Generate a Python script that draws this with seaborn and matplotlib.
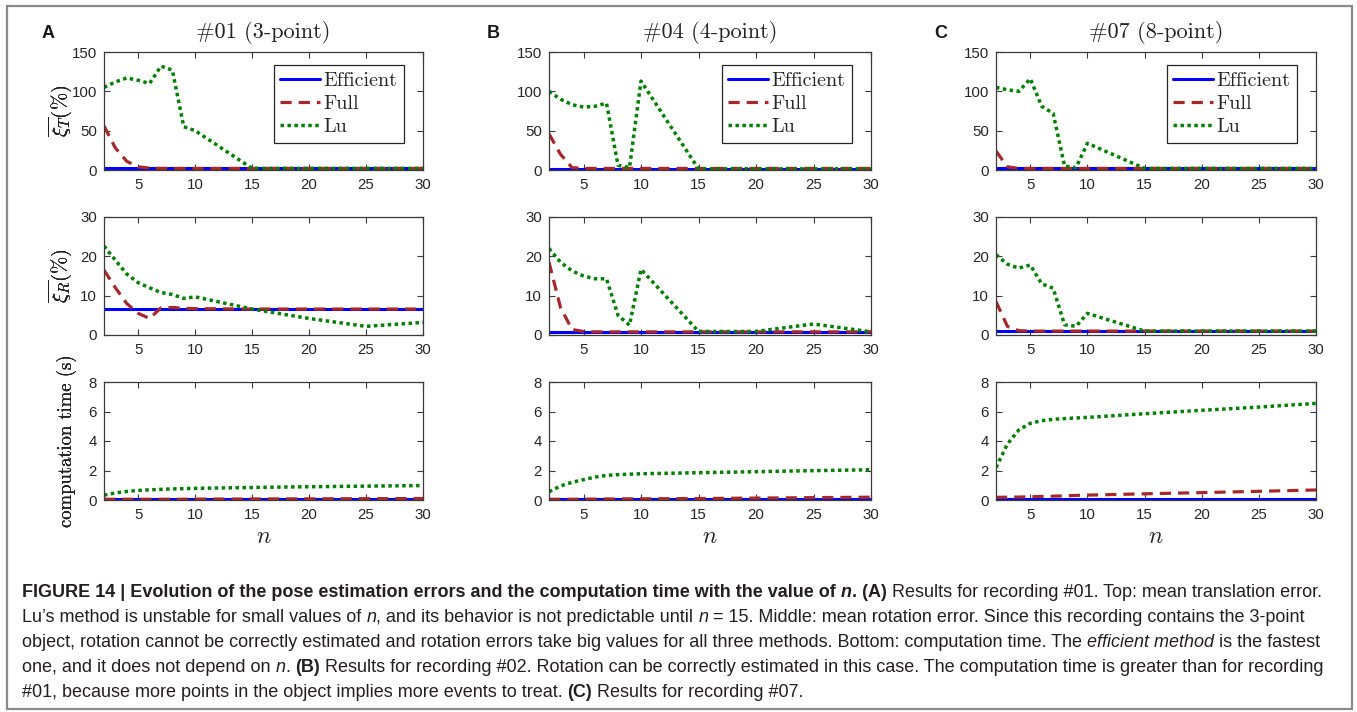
import matplotlib
matplotlib.use("Agg")
import matplotlib.pyplot as plt
import seaborn as sns
import pandas as pd
from matplotlib import font_manager
from matplotlib.patches import Rectangle

# ---------------- data ----------------
n_values = [2, 3, 4, 5, 6, 7, 8, 9, 10, 15, 20, 25, 30]
methods = ["Efficient", "Full", "Lu"]
panel_titles = ["#01 (3-point)", "#04 (4-point)", "#07 (8-point)"]
panel_letters = ["A", "B", "C"]

# translation error (%)
eff_T_A = [2, 2, 2, 2, 2, 2, 2, 2, 2, 2, 2, 2, 2]
full_T_A = [56, 28, 11, 4, 2.5, 2, 2, 2, 2, 2, 2, 2, 2]
lu_T_A = [105, 112, 117, 114, 110, 132, 127, 55, 50, 2, 2, 2, 2]
eff_T_B = [1.5, 1.5, 1.5, 1.5, 1.5, 1.5, 1.5, 1.5, 1.5, 1.5, 1.5, 1.5, 1.5]
full_T_B = [46, 20, 3, 2, 2, 2, 2, 2, 2, 2, 2, 2, 2]
lu_T_B = [100, 90, 83, 80, 81, 85, 6, 3, 113, 1.5, 1.5, 1.5, 1.5]
eff_T_C = [2, 2, 2, 2, 2, 2, 2, 2, 2, 2, 2, 2, 2]
full_T_C = [24, 4, 2, 2, 2, 2, 2, 2, 2, 2, 2, 2, 2]
lu_T_C = [105, 102, 100, 116, 81, 72, 5, 3, 34, 2, 2, 2, 2]

# rotation error (%)
eff_R_A = [6.6, 6.6, 6.6, 6.6, 6.6, 6.6, 6.6, 6.6, 6.6, 6.6, 6.6, 6.6, 6.6]
full_R_A = [16.5, 12, 8, 5.5, 4.2, 6.9, 7.0, 6.8, 6.7, 6.6, 6.6, 6.6, 6.6]
lu_R_A = [22.6, 19, 15.5, 13.3, 12, 10.8, 10.3, 9.3, 9.7, 6.6, 4.2, 2.2, 3.2]
eff_R_B = [0.8, 0.8, 0.8, 0.8, 0.8, 0.8, 0.8, 0.8, 0.8, 0.8, 0.8, 0.8, 0.8]
full_R_B = [18.5, 7, 1.4, 0.9, 0.8, 0.8, 0.8, 0.8, 0.8, 0.8, 0.8, 0.8, 0.8]
lu_R_B = [22, 18.5, 16.3, 15, 14.3, 14.3, 5, 2.5, 16.7, 0.9, 0.9, 2.8, 0.8]
eff_R_C = [1.0, 1.0, 1.0, 1.0, 1.0, 1.0, 1.0, 1.0, 1.0, 1.0, 1.0, 1.0, 1.0]
full_R_C = [8.5, 2.2, 1.1, 1.0, 1.0, 1.0, 1.0, 1.0, 1.0, 1.0, 1.0, 1.0, 1.0]
lu_R_C = [20.4, 18, 17, 17.8, 13, 11.9, 2.6, 2.2, 5.5, 1.0, 1.0, 1.0, 1.0]

# computation time (s)
eff_C_A = [0.04, 0.04, 0.04, 0.04, 0.04, 0.04, 0.04, 0.04, 0.04, 0.04, 0.04, 0.04, 0.04]
full_C_A = [0.05, 0.05, 0.05, 0.05, 0.05, 0.05, 0.05, 0.05, 0.06, 0.07, 0.08, 0.09, 0.1]
lu_C_A = [0.33, 0.48, 0.58, 0.65, 0.69, 0.72, 0.75, 0.77, 0.79, 0.85, 0.9, 0.94, 0.98]
eff_C_B = [0.04, 0.04, 0.04, 0.04, 0.04, 0.04, 0.04, 0.04, 0.04, 0.04, 0.04, 0.04, 0.04]
full_C_B = [0.05, 0.05, 0.05, 0.06, 0.06, 0.07, 0.07, 0.08, 0.08, 0.1, 0.13, 0.16, 0.19]
lu_C_B = [0.56, 0.95, 1.2, 1.38, 1.55, 1.67, 1.72, 1.75, 1.78, 1.85, 1.92, 1.99, 2.05]
eff_C_C = [0.1, 0.1, 0.1, 0.1, 0.1, 0.1, 0.1, 0.1, 0.1, 0.1, 0.1, 0.1, 0.1]
full_C_C = [0.18, 0.19, 0.2, 0.22, 0.24, 0.26, 0.28, 0.31, 0.33, 0.42, 0.5, 0.59, 0.68]
lu_C_C = [2.2, 3.8, 4.75, 5.2, 5.38, 5.47, 5.52, 5.56, 5.6, 5.85, 6.08, 6.3, 6.55]

x_ticks = [5, 10, 15, 20, 25, 30]
yticks_T = [0, 50, 100, 150]
yticks_R = [0, 10, 20, 30]
yticks_C = [0, 2, 4, 6, 8]

series = {
    ("T", 0): [eff_T_A, full_T_A, lu_T_A],
    ("T", 1): [eff_T_B, full_T_B, lu_T_B],
    ("T", 2): [eff_T_C, full_T_C, lu_T_C],
    ("R", 0): [eff_R_A, full_R_A, lu_R_A],
    ("R", 1): [eff_R_B, full_R_B, lu_R_B],
    ("R", 2): [eff_R_C, full_R_C, lu_R_C],
    ("C", 0): [eff_C_A, full_C_A, lu_C_A],
    ("C", 1): [eff_C_B, full_C_B, lu_C_B],
    ("C", 2): [eff_C_C, full_C_C, lu_C_C],
}

# ---------------- style ----------------
sns.set_theme(style="white")
plt.rcParams["font.family"] = ["Liberation Sans", "DejaVu Sans"]
plt.rcParams["mathtext.fontset"] = "cm"
plt.rcParams["axes.unicode_minus"] = False

W, H = 1357, 712
fig = plt.figure(figsize=(W / 100, H / 100), dpi=100)
fig.patch.set_facecolor("white")

def fx(x):
    return x / W

def fy(y):
    return 1 - y / H

line_colors = ["#0000ff", "#a8282a", "#008000"]
line_styles = ["-", (0, (3.5, 2.2)), (0, (1, 1))]
line_widths = [2.2, 2.3, 2.5]

col_x = [(104, 423), (549, 871), (996, 1316)]
row_y = {"T": (52, 170), "R": (217, 335), "C": (382, 500)}
ylims = {"T": (0, 150), "R": (0, 30), "C": (0, 8)}
yticks = {"T": yticks_T, "R": yticks_R, "C": yticks_C}
ylabels = {"T": r"$\overline{\xi_T}(\%)$", "R": r"$\overline{\xi_R}(\%)$",
           "C": "computation time (s)"}
edge = "#3a3a3a"
serif = ["cmr10", "DejaVu Serif"]

for ci in range(3):
    x0, x1 = col_x[ci]
    for row in ["T", "R", "C"]:
        y0, y1 = row_y[row]
        ax = fig.add_axes([fx(x0), fy(y1), fx(x1 - x0), (y1 - y0) / H])
        vals = series[(row, ci)]
        for k in range(3):
            df = pd.DataFrame({"n": n_values, "v": vals[k]})
            sns.lineplot(data=df, x="n", y="v", ax=ax, color=line_colors[k],
                         linestyle=line_styles[k], linewidth=line_widths[k],
                         label=methods[k], legend=False)
        ax.set_xlim(2, 30)
        ax.set_ylim(*ylims[row])
        ax.set_xticks(x_ticks)
        ax.set_yticks(yticks[row])
        ax.tick_params(direction="in", length=4, width=0.8, top=True, right=True,
                       bottom=True, left=True, colors=edge, labelcolor="#262626",
                       labelsize=10.8, pad=5)
        ax.tick_params(axis="x", pad=6)
        for sp in ax.spines.values():
            sp.set_color(edge)
            sp.set_linewidth(0.9)
        ax.set_xlabel("")
        if row == "C":
            ax.set_ylabel(ylabels[row], family=serif, fontsize=13.5, color="#222222")
            ax.yaxis.set_label_coords((77 - x0) / (x1 - x0), 0.5)
            ax.set_xlabel(r"$n$", fontsize=17, color="#222222")
            ax.xaxis.set_label_coords(0.5, (y1 - 543) / (y1 - y0))
            ax.xaxis.label.set_va("baseline")
        else:
            ax.set_ylabel(ylabels[row], fontsize=15, color="#222222")
            ax.yaxis.set_label_coords((74 - x0) / (x1 - x0), 0.5)
        if row == "T":
            ax.legend(loc="upper right",
                      bbox_to_anchor=((x1 - 19 - x0) / (x1 - x0), (y1 - 65) / (y1 - y0)),
                      prop={"family": serif, "size": 14.5}, frameon=True,
                      fancybox=False, edgecolor="#262626", framealpha=1,
                      handlelength=2.0, handletextpad=0.15, borderpad=0.33,
                      labelspacing=0.25, borderaxespad=0)
            ax.get_legend().get_frame().set_linewidth(0.9)
            ax.set_title(panel_titles[ci], family=serif, fontsize=16,
                         color="#222222", y=(y1 - 33) / (y1 - y0), va="center", pad=0)
            fig.text(fx(x0 - 62), fy(33), panel_letters[ci], fontsize=13,
                     weight="bold", color="#1a1a1a", ha="left", va="center")

# frame around the whole figure
fig.patches.append(Rectangle((fx(7), fy(709)), fx(1352 - 7), (709 - 6) / H,
                             transform=fig.transFigure, fill=False,
                             edgecolor="#8a8a8a", linewidth=1.6))

# ---------------- caption ----------------
cap_fam = ["Liberation Sans", "DejaVu Sans"]
try:
    font_manager.findfont(font_manager.FontProperties(family="Liberation Sans Narrow"),
                          fallback_to_default=False)
    cap_fam = ["Liberation Sans Narrow", "Liberation Sans", "DejaVu Sans"]
except Exception:
    pass

B, I, N, BI = ("bold", "normal"), ("normal", "italic"), ("normal", "normal"), ("bold", "italic")
caption_lines = [
    [("FIGURE 14 | Evolution of the pose estimation errors and the computation time with the value of ", B),
     ("n", BI), (". (A)", B), (" Results for recording #01. Top: mean translation error.", N)],
    [("Lu\u2019s method is unstable for small values of ", N), ("n", I),
     (", and its behavior is not predictable until ", N), ("n", I),
     (" = 15. Middle: mean rotation error. Since this recording contains the 3-point", N)],
    [("object, rotation cannot be correctly estimated and rotation errors take big values for all three methods. Bottom: computation time. The ", N),
     ("efficient method", I), (" is the fastest", N)],
    [("one, and it does not depend on ", N), ("n", I), (". ", N), ("(B)", B),
     (" Results for recording #02. Rotation can be correctly estimated in this case. The computation time is greater than for recording", N)],
    [("#01, because more points in the object implies more events to treat. ", N), ("(C)", B),
     (" Results for recording #07.", N)],
]
baselines = [597, 622, 647, 672, 697]
renderer = fig.canvas.get_renderer()

def run_width(txt, sty, size):
    t1 = fig.text(0, 0, "|" + txt + "|", fontsize=size, weight=sty[0], style=sty[1], family=cap_fam)
    t2 = fig.text(0, 0, "||", fontsize=size, weight=sty[0], style=sty[1], family=cap_fam)
    w = t1.get_window_extent(renderer).width - t2.get_window_extent(renderer).width
    t1.remove()
    t2.remove()
    return w

base = 12.0
tot = sum(run_width(t, s, base) for t, s in caption_lines[0])
cap_size = base * (1320 - 22) / tot

for line, yb in zip(caption_lines, baselines):
    x = 22.0
    for txt, sty in line:
        fig.text(fx(x), fy(yb), txt, fontsize=cap_size, weight=sty[0], style=sty[1],
                 family=cap_fam, color="#231f20", ha="left", va="baseline")
        x += run_width(txt, sty, cap_size)

fig.savefig("out.png", dpi=100, facecolor="white")
